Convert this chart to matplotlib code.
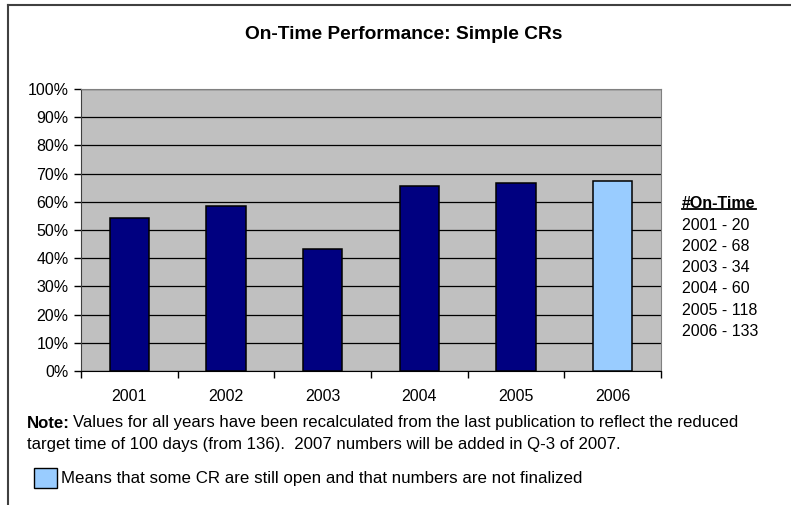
import matplotlib
matplotlib.use("Agg")
import matplotlib.pyplot as plt
from matplotlib.patches import Rectangle
from matplotlib.lines import Line2D
from matplotlib.ticker import PercentFormatter

years = ["2001", "2002", "2003", "2004", "2005", "2006"]
on_time_pct = [54.2, 58.5, 43.3, 65.5, 66.8, 67.2]
on_time_count = [20, 68, 34, 60, 118, 133]
not_final = [False, False, False, False, False, True]

W, H = 791, 505
plt.rcParams['font.family'] = ['Liberation Sans', 'DejaVu Sans']

fig = plt.figure(figsize=(W / 100, H / 100), dpi=100)

# helper: pixel coords (from top-left) -> figure fraction
def fx(x):
    return x / W
def fy(y):
    return 1 - y / H

ax = fig.add_axes([fx(81), fy(371), (661 - 81) / W, (371 - 89) / H])
ax.set_facecolor('#C0C0C0')

colors = ['#99CCFF' if nf else '#000080' for nf in not_final]
xs = list(range(len(years)))
ax.bar(xs, on_time_pct, width=0.41, color=colors, edgecolor='black', linewidth=1.1, zorder=3)

ax.set_xlim(-0.5, len(years) - 0.5)
ax.set_ylim(0, 100)
ax.set_yticks(range(0, 101, 10))
ax.yaxis.set_major_formatter(PercentFormatter(decimals=0))
ax.grid(axis='y', color='black', linewidth=0.9, zorder=1)
ax.set_axisbelow(True)

# x ticks sit between categories, labels centred under bars
ax.set_xticks([i - 0.5 for i in range(len(years) + 1)])
ax.set_xticklabels([])
ax.set_xticks(xs, minor=True)
ax.set_xticklabels(years, minor=True)
ax.tick_params(axis='x', which='minor', length=0, pad=13, labelsize=11.5)
ax.tick_params(axis='x', which='major', length=5, width=1, color='black')
ax.tick_params(axis='y', length=5, width=1, color='black', labelsize=11.5, pad=4)

for side in ['top', 'right']:
    ax.spines[side].set_color('#808080')
ax.spines['left'].set_color('#404040')
ax.spines['bottom'].set_color('black')

# title
fig.text(fx(404), fy(34), "On-Time Performance: Simple CRs", ha='center', va='center',
         fontsize=13.8, fontweight='bold')

# side legend with counts
head = fig.text(fx(682), fy(203), "#On-Time", ha='left', va='center', fontsize=11.5, fontweight='bold')
for i, (yr, n) in enumerate(zip(years, on_time_count)):
    fig.text(fx(682), fy(225 + i * 21.3), f"{yr} - {n}", ha='left', va='center', fontsize=11.5)

# note
note = fig.text(fx(27), fy(423), "Note:", ha='left', va='center', fontsize=12.1, fontweight='bold')
ax.annotate("Values for all years have been recalculated from the last publication to reflect the reduced",
            xy=(1, 0.5), xycoords=note, xytext=(2.5, 0), textcoords='offset points',
            ha='left', va='center', fontsize=12.1, annotation_clip=False)
fig.text(fx(27), fy(444), "target time of 100 days (from 136).  2007 numbers will be added in Q-3 of 2007.",
         ha='left', va='center', fontsize=12.1)

# colour key
fig.add_artist(Rectangle((fx(34), fy(488)), 23 / W, 20 / H, transform=fig.transFigure,
                         facecolor='#99CCFF', edgecolor='black', linewidth=1))
fig.text(fx(61), fy(478), "Means that some CR are still open and that numbers are not finalized",
         ha='left', va='center', fontsize=12.2)

# outer frame (top and left visible)
fig.add_artist(Line2D([fx(7.5), fx(W + 5)], [fy(5), fy(5)], color='#404040', linewidth=1.5))
fig.add_artist(Line2D([fx(7.5), fx(7.5)], [fy(5), fy(H + 5)], color='#404040', linewidth=1.5))

# underline the legend heading, sized to the rendered text
fig.canvas.draw()
bb = head.get_window_extent().transformed(fig.transFigure.inverted())
fig.add_artist(Line2D([bb.x0, bb.x1], [fy(209), fy(209)], color='black', linewidth=1.3))

fig.savefig("out.png", dpi=100)
